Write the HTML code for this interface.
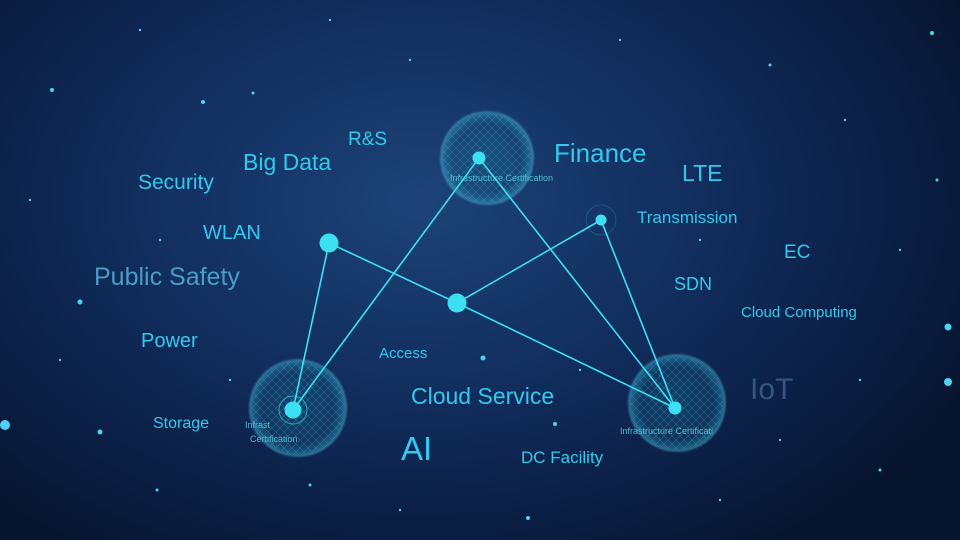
<!DOCTYPE html>
<html><head><meta charset="utf-8"><style>
html,body{margin:0;padding:0;}
body{width:960px;height:540px;overflow:hidden;position:relative;
background:radial-gradient(ellipse 620px 420px at 420px 200px,#1c4378 0%,#112e5e 45%,#0a1d42 80%,#07152f 100%);
font-family:"Liberation Sans",sans-serif;}
.t{position:absolute;color:#33c9ee;white-space:nowrap;line-height:1;}
svg{position:absolute;left:0;top:0;}
</style></head><body>
<svg width="960" height="540">
<defs>
<radialGradient id="g" cx="50%" cy="50%" r="50%">
<stop offset="0" stop-color="#1f6f92" stop-opacity=".45"/>
<stop offset=".75" stop-color="#175c82" stop-opacity=".35"/>
<stop offset="1" stop-color="#3ab8d8" stop-opacity=".55"/>
</radialGradient>
<pattern id="mesh" width="8" height="8" patternUnits="userSpaceOnUse">
<path d="M0 4 L4 0 L8 4 L4 8Z" fill="none" stroke="#4fc8e0" stroke-width=".5" opacity=".5"/>
</pattern>
<filter id="bl"><feGaussianBlur stdDeviation="1"/></filter>
</defs>
<g fill="#4fd0f5">
<circle cx="5" cy="425" r="5"/><circle cx="948" cy="382" r="4"/><circle cx="948" cy="327" r="3.5"/>
<circle cx="80" cy="302" r="2.5"/><circle cx="100" cy="432" r="2.5"/><circle cx="52" cy="90" r="2"/>
<circle cx="203" cy="102" r="2"/><circle cx="253" cy="93" r="1.5"/><circle cx="483" cy="358" r="2.5"/>
<circle cx="555" cy="424" r="2"/><circle cx="932" cy="33" r="2"/><circle cx="937" cy="180" r="1.5"/>
<circle cx="157" cy="490" r="1.5"/><circle cx="528" cy="518" r="2"/><circle cx="310" cy="485" r="1.5"/>
<circle cx="880" cy="470" r="1.5"/><circle cx="770" cy="65" r="1.5"/><circle cx="140" cy="30" r="1.2"/>
<circle cx="620" cy="40" r="1.2"/><circle cx="410" cy="60" r="1.2"/><circle cx="845" cy="120" r="1.2"/>
<circle cx="30" cy="200" r="1.2"/><circle cx="720" cy="500" r="1.2"/><circle cx="400" cy="510" r="1.2"/>
<circle cx="860" cy="380" r="1.2"/><circle cx="230" cy="380" r="1.2"/><circle cx="700" cy="240" r="1.2"/>
<circle cx="160" cy="240" r="1.2"/><circle cx="580" cy="370" r="1.2"/><circle cx="330" cy="20" r="1.2"/>
<circle cx="900" cy="250" r="1.2"/><circle cx="60" cy="360" r="1.2"/><circle cx="780" cy="440" r="1.2"/>
</g>
<g stroke="#5fd6ee" stroke-width=".8" fill="url(#g)" opacity=".85">
<circle cx="487" cy="158" r="46" filter="url(#bl)"/>
<circle cx="298" cy="408" r="48" filter="url(#bl)"/>
<circle cx="677" cy="403" r="48" filter="url(#bl)"/>
</g>
<g fill="url(#mesh)">
<circle cx="487" cy="158" r="44"/><circle cx="298" cy="408" r="46"/><circle cx="677" cy="403" r="46"/>
</g>
<g fill="#55c8e0" font-size="9" font-family="Liberation Sans" opacity=".9">
<text x="450" y="181">Infrastructure Certification</text>
<text x="245" y="428">Infrast</text><text x="250" y="442">Certification</text>
<text x="620" y="434">Infrastructure Certificati</text>
</g>
<g stroke="#3de0f5" stroke-width="1.6" fill="none">
<line x1="293" y1="410" x2="329" y2="243"/>
<line x1="293" y1="410" x2="479" y2="158"/>
<line x1="329" y1="243" x2="457" y2="303"/>
<line x1="457" y1="303" x2="675" y2="408"/>
<line x1="457" y1="303" x2="601" y2="220"/>
<line x1="479" y1="158" x2="675" y2="408"/>
<line x1="601" y1="220" x2="675" y2="408"/>
</g>
<g fill="#3de0f2">
<circle cx="479" cy="158" r="6.5"/><circle cx="329" cy="243" r="9.5"/><circle cx="457" cy="303" r="9.5"/>
<circle cx="601" cy="220" r="5.5"/><circle cx="293" cy="410" r="8.5"/><circle cx="675" cy="408" r="6.5"/>
</g>
<circle cx="293" cy="410" r="14" fill="none" stroke="#3de0f2" stroke-width="1" opacity=".6"/>
<circle cx="601" cy="220" r="15" fill="none" stroke="#3de0f2" stroke-width=".6" opacity=".3"/>
</svg>
<div class="t" style="left:348px;top:130px;font-size:19px">R&amp;S</div>
<div class="t" style="left:243px;top:151px;font-size:23px">Big Data</div>
<div class="t" style="left:138px;top:172px;font-size:21px">Security</div>
<div class="t" style="left:203px;top:223px;font-size:20px">WLAN</div>
<div class="t" style="left:94px;top:265px;font-size:25px;color:#4a9dc6">Public Safety</div>
<div class="t" style="left:141px;top:331px;font-size:20px">Power</div>
<div class="t" style="left:153px;top:416px;font-size:16px">Storage</div>
<div class="t" style="left:379px;top:346px;font-size:15px">Access</div>
<div class="t" style="left:411px;top:385px;font-size:23px">Cloud Service</div>
<div class="t" style="left:401px;top:432px;font-size:33px">AI</div>
<div class="t" style="left:521px;top:449px;font-size:17px">DC Facility</div>
<div class="t" style="left:554px;top:140px;font-size:26px">Finance</div>
<div class="t" style="left:682px;top:162px;font-size:23px">LTE</div>
<div class="t" style="left:637px;top:209px;font-size:17px">Transmission</div>
<div class="t" style="left:784px;top:243px;font-size:19px">EC</div>
<div class="t" style="left:674px;top:275px;font-size:18px">SDN</div>
<div class="t" style="left:741px;top:305px;font-size:15px">Cloud Computing</div>
<div class="t" style="left:750px;top:375px;font-size:30px;color:#36577d">IoT</div>
</body></html>
